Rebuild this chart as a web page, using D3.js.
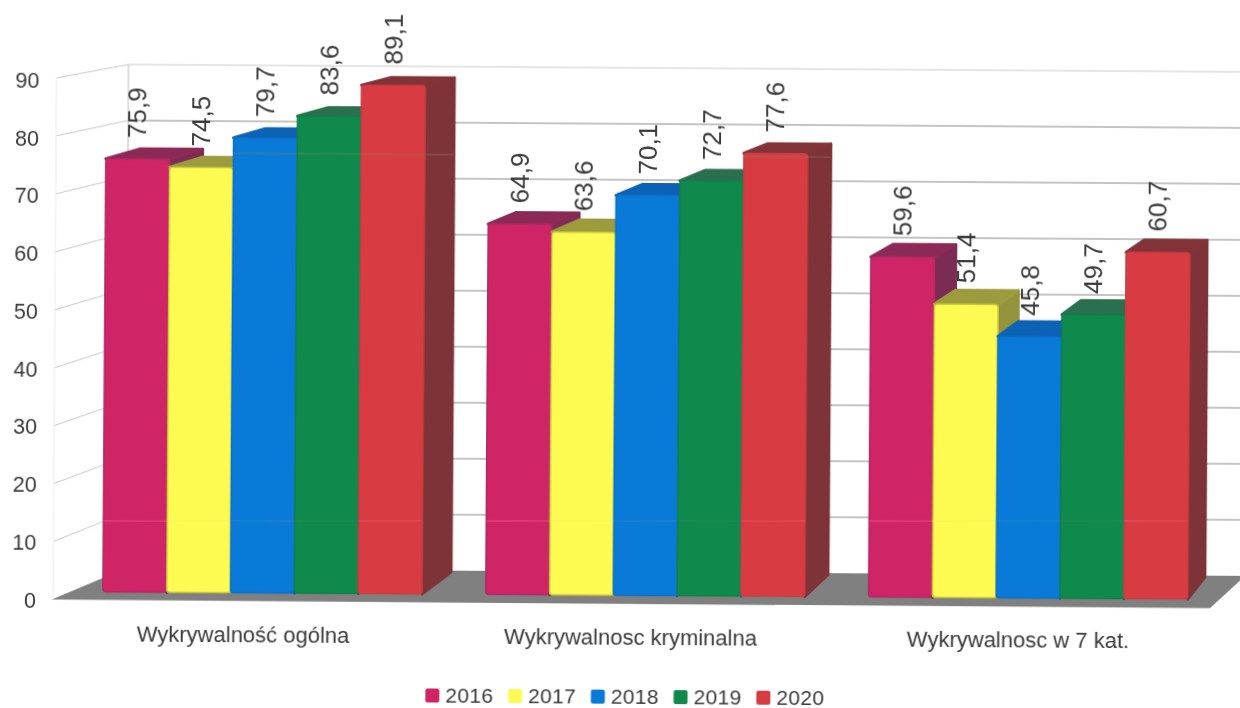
<!DOCTYPE html>
<html><head><meta charset="utf-8">
<script src="https://cdn.jsdelivr.net/npm/d3@7"></script>
<style>html,body{margin:0;background:#fff}svg{display:block}text{font-family:"Liberation Sans",Arial,sans-serif;fill:#3a3a3a}#c>g{filter:blur(0.45px)}</style>
</head><body><svg id="c" width="1240" height="708"></svg>
<script>
const categories = ["Wykrywalność ogólna", "Wykrywalnosc kryminalna", "Wykrywalnosc w 7 kat."];
const years = ["2016", "2017", "2018", "2019", "2020"];
const values2016 = [75.9, 64.9, 59.6];
const values2017 = [74.5, 63.6, 51.4];
const values2018 = [79.7, 70.1, 45.8];
const values2019 = [83.6, 72.7, 49.7];
const values2020 = [89.1, 77.6, 60.7];
const seriesValues = [values2016, values2017, values2018, values2019, values2020];
const yTicks = [0, 10, 20, 30, 40, 50, 60, 70, 80, 90];
const frontColors = ["#cf2466", "#fdfb52", "#0a7ad8", "#0f8a4c", "#d83c42"];
const topColors = ["#8c2a56", "#9c9c3e", "#0c62b4", "#2a6f50", "#823338"];
const sideColors = ["#7c2c54", "#94943e", "#0c5aa6", "#256548", "#7e3338"];
const edgeColors = ["#b02a64", "#c8c840", "#0a70c8", "#0e8048", "#c83c42"];
const streakColors = ["#f0507c", "#f4f060", "#2a86c8", "#2a8a58", "#f0506c"];

const svg = d3.select("#c");
const tilt = 0.38;
const scene = svg.append("g").attr("transform", `translate(-2,0) rotate(${tilt} 55 598)`);

const x0 = d3.scaleBand().domain(categories).range([73, 1221.5]);
const x1 = d3.scaleBand().domain(years).range([0, x0.bandwidth()]).paddingInner(0).paddingOuter(0.5);
const xLabel = d3.scaleBand().domain(categories).range([51.5, 1214]);
const y = d3.scaleLinear().domain([0, 90]).range([591.5, 78]);
const yFront = d3.scaleLinear().domain([0, 90]).range([599.5, 78]);
const yBack = d3.scaleLinear().domain([0, 90]).range([568, 64]);
const yLabel = d3.scaleLinear().domain([0, 90]).range([600, 80]);
const wallX = 55, backX = 127, floorLeft = 54, floorRightFront = 1212, backRight = 1247;

const line = d3.line();
// back wall and side wall
scene.selectAll(".grid").data(yTicks.filter(d => d > 0)).join("line")
  .attr("x1", backX).attr("x2", backRight).attr("y1", yBack).attr("y2", yBack)
  .attr("stroke", d => d === 90 ? "#dcdcdc" : "#b0b0b0").attr("stroke-width", 1.3);
scene.selectAll(".side").data(yTicks.filter(d => d > 0)).join("line")
  .attr("x1", wallX).attr("x2", backX).attr("y1", yFront).attr("y2", yBack)
  .attr("stroke", "#c8c8c8").attr("stroke-width", 1);
scene.append("line").attr("x1", backX).attr("x2", backX).attr("y1", yBack(90)).attr("y2", yBack(0)).attr("stroke", "#bdbdbd");
scene.append("line").attr("x1", wallX).attr("x2", wallX).attr("y1", yFront(90)).attr("y2", yFront(0)).attr("stroke", "#ececec");
// floor
scene.append("path").attr("d", line([[floorLeft, yFront(0)], [backX, yBack(0)], [backRight, yBack(0)], [floorRightFront, yFront(0) + 1]]) + "Z").attr("fill", "#808080");

// tick labels
scene.selectAll(".tick").data(yTicks).join("text")
  .attr("x", 38).attr("y", yLabel).attr("dy", "0.36em").attr("text-anchor", "end")
  .attr("font-size", 21.5).text(d => d);

// perspective offsets of a bar's back edge
const depthX = px => 0.0155 * (2294 - px);
const depthY = py => 5.7 + 0.0277 * py;
const bars = [];
categories.forEach((c, ci) => years.forEach((yr, si) => {
  bars.push({ c, yr, si, v: seriesValues[si][ci] });
}));
const fmt = v => d3.format(".1f")(v).replace(".", ",");
const rad = Math.PI / 180 * tilt;

bars.forEach(b => {
  const l = x0(b.c) + x1(b.yr), r = l + x1.bandwidth(), t = y(b.v), bt = y(0);
  const g = scene.append("g");
  const st = depthY(t), sb = depthY(bt), rb = r + depthX(r);
  g.append("path").attr("d", line([[r, t], [rb, t - st], [rb, bt - sb], [r, bt]]) + "Z")
    .attr("fill", sideColors[b.si]).attr("stroke", sideColors[b.si]).attr("stroke-linejoin", "round").attr("stroke-width", 3);
  g.append("path").attr("d", line([[l, t], [l + depthX(l), t - st], [rb, t - st], [r, t]]) + "Z")
    .attr("fill", topColors[b.si]).attr("stroke", topColors[b.si]).attr("stroke-linejoin", "round").attr("stroke-width", 3);
  g.append("rect").attr("x", l).attr("y", t).attr("width", r - l).attr("height", bt - t).attr("rx", 3)
    .attr("fill", frontColors[b.si]).attr("stroke", edgeColors[b.si]).attr("stroke-width", 1.5);
  // thin scanner streaks that cross the bars in the reference
  const yAt = px => 521 - (px - 55) * Math.tan(rad);
  g.append("line").attr("x1", l).attr("x2", r).attr("y1", yAt(l)).attr("y2", yAt(r))
    .attr("stroke", streakColors[b.si]).attr("stroke-width", 1.1).attr("opacity", 0.8);
  if (t < 151) {
    g.append("line").attr("x1", l).attr("x2", rb).attr("y1", 152).attr("y2", 152)
      .attr("stroke", "#8a8a4a").attr("stroke-width", 1).attr("opacity", 0.5);
  }
});
bars.forEach(b => {
  const cx = x0(b.c) + x1(b.yr) + x1.bandwidth() / 2 + 8.5;
  scene.append("text").attr("transform", `translate(${cx},${y(b.v) - 21}) rotate(-90)`)
    .attr("font-size", 26).text(fmt(b.v));
});

// category labels
scene.selectAll(".cat").data(categories).join("text")
  .attr("x", d => xLabel(d) + xLabel.bandwidth() / 2).attr("y", 640.5).attr("text-anchor", "middle")
  .attr("font-size", 22).text(d => d);

// legend
const legendX = d3.scalePoint().domain(years).range([428, 759]);
const lg = scene.selectAll(".lg").data(years).join("g").attr("transform", d => `translate(${legendX(d)},692)`);
lg.append("rect").attr("x", 0).attr("y", -6).attr("width", 14).attr("height", 14).attr("rx", 2).attr("fill", (d, i) => frontColors[i]);
lg.append("text").attr("x", 20).attr("dy", "0.36em").attr("font-size", 21).attr("letter-spacing", 0.3).text(d => d);
</script></body></html>
